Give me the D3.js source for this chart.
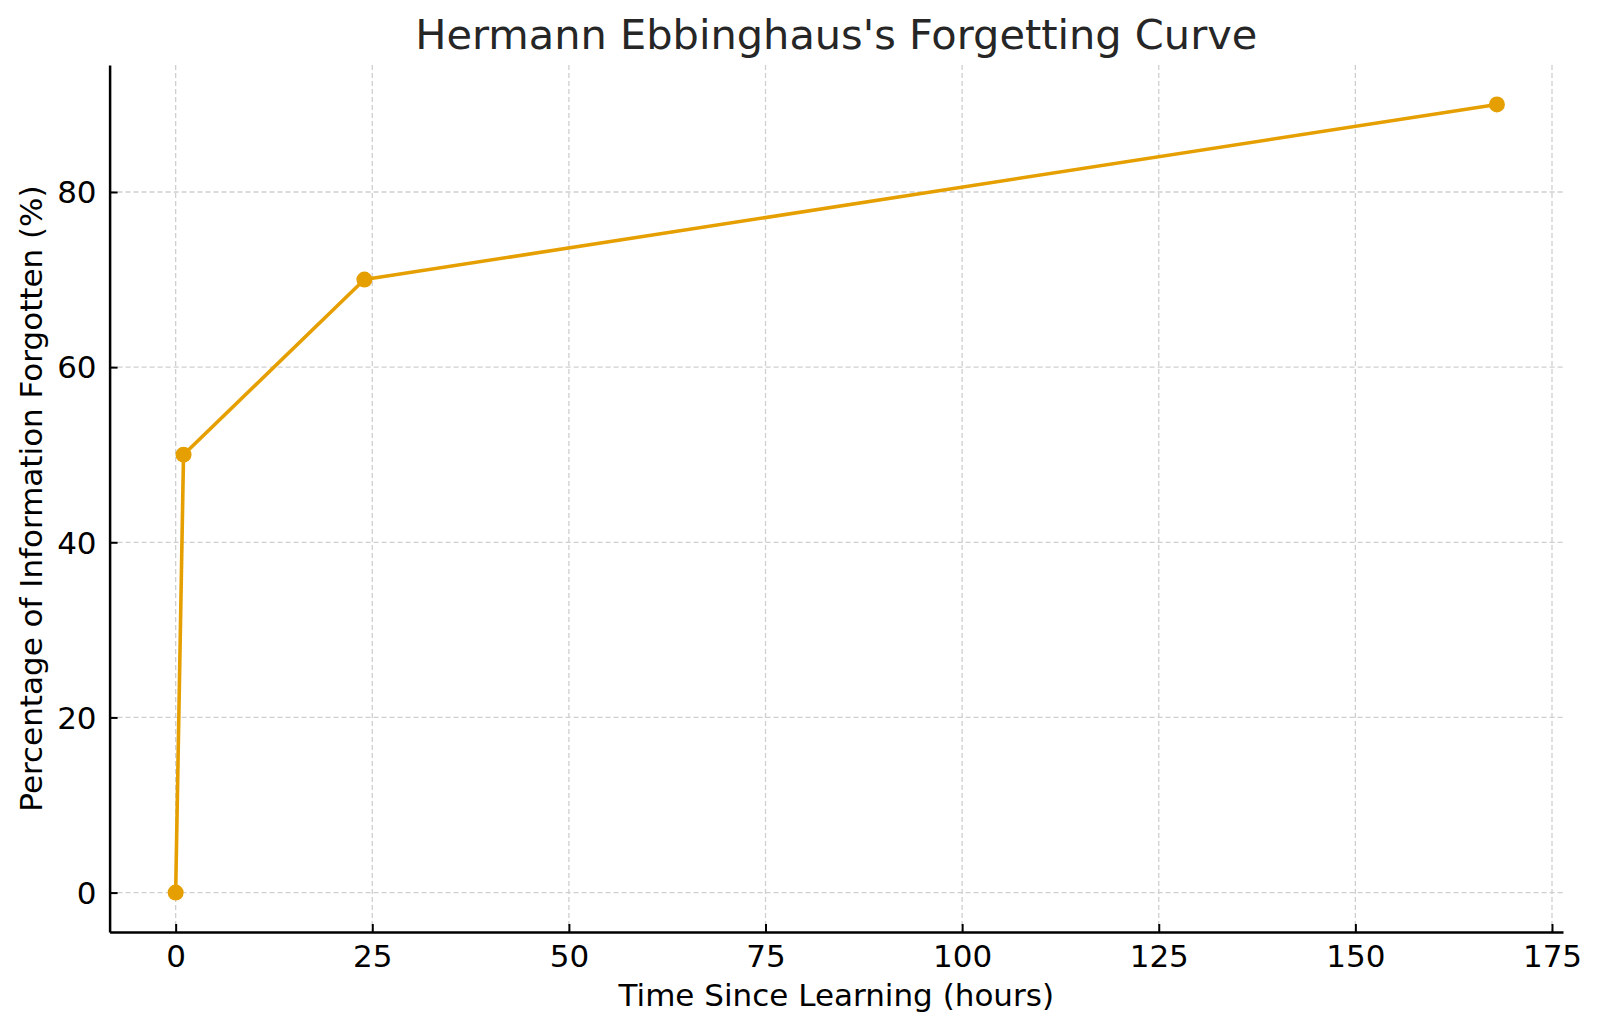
<!DOCTYPE html>
<html>
<head>
<meta charset="utf-8">
<script src="https://cdn.jsdelivr.net/npm/d3@7"></script>
<style>
  body { margin: 0; background: #fff; }
  svg text { font-family: "DejaVu Sans", sans-serif; }
</style>
</head>
<body>
<div id="canvas"></div>
<script>
// data
var hours = [0, 1, 24, 168];
var forgotten = [0, 50, 70, 90];
var xTicks = [0, 25, 50, 75, 100, 125, 150, 175];
var yTicks = [0, 20, 40, 60, 80];

var W = 1600, H = 1033;
var m = {t: 65, r: 37, b: 101, l: 109.6};
var w = W - m.l - m.r, h = H - m.t - m.b;

var svg = d3.select('#canvas').append('svg')
    .attr('width', W).attr('height', H);
var plot = svg.append('g')
    .attr('transform', 'translate(' + m.l + ',' + m.t + ')');

// matplotlib style 5% padding
var scaleX = d3.scaleLinear().domain([-8.4, 176.4]).range([0, w]);
var scaleY = d3.scaleLinear().domain([-4.5, 94.5]).range([h, 0]);

// grid
plot.selectAll('.gx').data(xTicks).enter().append('line')
    .attr('x1', function(d){ return scaleX(d); })
    .attr('x2', function(d){ return scaleX(d); })
    .attr('y1', 0).attr('y2', h)
    .attr('stroke', '#cfcfcf').attr('stroke-width', 1.3)
    .attr('stroke-dasharray', '5,3');
plot.selectAll('.gy').data(yTicks).enter().append('line')
    .attr('y1', function(d){ return scaleY(d); })
    .attr('y2', function(d){ return scaleY(d); })
    .attr('x1', 0).attr('x2', w)
    .attr('stroke', '#cfcfcf').attr('stroke-width', 1.3)
    .attr('stroke-dasharray', '5,3');

// axes, ticks pointing in
var axisX = d3.axisBottom(scaleX).tickValues(xTicks).tickSizeInner(-8).tickSizeOuter(0).tickPadding(13);
var axisY = d3.axisLeft(scaleY).tickValues(yTicks).tickSizeInner(-8).tickSizeOuter(0).tickPadding(13);

var gx = plot.append('g').attr('transform', 'translate(0,' + h + ')').call(axisX);
var gy = plot.append('g').call(axisY);
[gx, gy].forEach(function(g){
  g.select('.domain').attr('stroke', '#000').attr('stroke-width', 2.5);
  g.selectAll('.tick line').attr('stroke', '#000').attr('stroke-width', 2);
  g.selectAll('.tick text').attr('fill', '#000').style('font-size', '31px')
    .style('font-family', '"DejaVu Sans", sans-serif');
});
gy.selectAll('.tick text').attr('dy', '0.35em');

// line + markers
var pts = hours.map(function(d, i){ return [d, forgotten[i]]; });
var line = d3.line()
    .x(function(d){ return scaleX(d[0]); })
    .y(function(d){ return scaleY(d[1]); });
plot.append('path').datum(pts)
    .attr('d', line)
    .attr('fill', 'none')
    .attr('stroke', '#E69F00')
    .attr('stroke-width', 3.6)
    .attr('stroke-linejoin', 'round');
plot.selectAll('.pt').data(pts).enter().append('circle')
    .attr('cx', function(d){ return scaleX(d[0]); })
    .attr('cy', function(d){ return scaleY(d[1]); })
    .attr('r', 8)
    .attr('fill', '#E69F00');

// texts
svg.append('text')
    .attr('x', m.l + w / 2).attr('y', 49)
    .attr('text-anchor', 'middle')
    .style('font-size', '41.5px').attr('fill', '#262626')
    .text("Hermann Ebbinghaus's Forgetting Curve");
svg.append('text')
    .attr('x', m.l + w / 2).attr('y', 1006)
    .attr('text-anchor', 'middle')
    .style('font-size', '31px').attr('fill', '#000')
    .text('Time Since Learning (hours)');
svg.append('text')
    .attr('transform', 'translate(42,' + (m.t + h / 2) + ') rotate(-90)')
    .attr('text-anchor', 'middle')
    .style('font-size', '31px').attr('fill', '#000')
    .text('Percentage of Information Forgotten (%)');
</script>
</body>
</html>
